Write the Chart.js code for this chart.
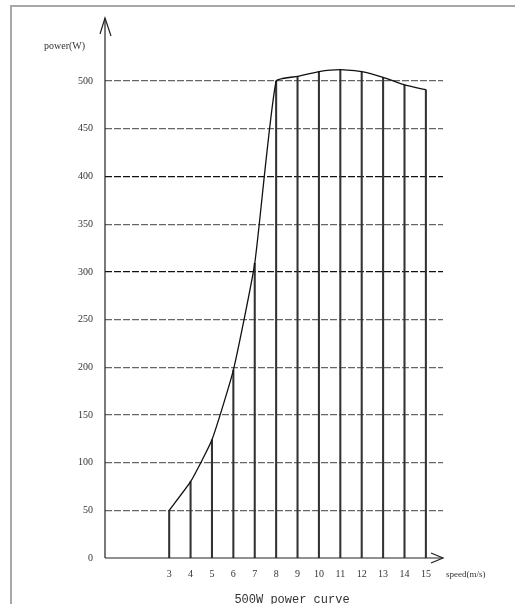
<!DOCTYPE html>
<html><head><meta charset="utf-8">
<script src="https://cdn.jsdelivr.net/npm/chart.js@4"></script>
<style>
html,body{margin:0;padding:0;background:#fff;overflow:hidden}
#wrap{position:relative;width:515px;height:604px}
#frame{position:absolute;left:10px;top:5px;width:600px;height:700px;border:2px solid #a8a8a8;box-sizing:border-box}
canvas{position:absolute;left:0;top:0}
</style></head>
<body><div id="wrap"><div id="frame"></div><canvas id="c" width="515" height="604"></canvas></div>
<script>
const speeds = [3,4,5,6,7,8,9,10,11,12,13,14,15];
const powers = [50,80,124,197,309,500,505,510,512,510,504,496,491];
const yTicks = [0,50,100,150,200,250,300,350,400,450,500];
const xTicks = speeds;
const chartTitle = '500W power curve';
const yTitle = 'power(W)';
const xTitle = 'speed(m/s)';

const pts = speeds.map((s,i)=>({x:s,y:powers[i]}));

const decor = {
  id:'decor',
  afterDraw(chart){
    const {ctx, chartArea:a} = chart;
    ctx.save();
    ctx.strokeStyle='#222'; ctx.lineWidth=1.2;
    ctx.beginPath();
    ctx.moveTo(a.left, a.bottom); ctx.lineTo(a.left, a.top-4);
    ctx.moveTo(a.left, a.bottom); ctx.lineTo(a.right, a.bottom);
    ctx.stroke();
    ctx.beginPath();
    ctx.moveTo(a.left-5, a.top+12); ctx.lineTo(a.left, a.top-4); ctx.lineTo(a.left+6, a.top+14);
    ctx.moveTo(a.right-12, a.bottom-5); ctx.lineTo(a.right, a.bottom); ctx.lineTo(a.right-12, a.bottom+5);
    ctx.stroke();
    ctx.fillStyle='#333';
    ctx.font='10px "Liberation Serif", serif';
    ctx.textAlign='left'; ctx.textBaseline='middle';
    ctx.fillText(yTitle, 44, 46);
    ctx.font='9px "Liberation Serif", serif';
    ctx.fillText(xTitle, a.right+3, a.bottom+17);
    ctx.font='12px "Liberation Mono", monospace';
    ctx.textAlign='center'; ctx.textBaseline='alphabetic';
    ctx.fillText(chartTitle, 292, 603);
    ctx.restore();
  }
};

new Chart(document.getElementById('c'), {
  data:{
    datasets:[
      {type:'bar', data:pts, backgroundColor:'#333', barThickness:1.4, order:2},
      {type:'line', data:pts, borderColor:'#111', borderWidth:1.3, pointRadius:0, tension:0.15, fill:false, order:1}
    ]
  },
  options:{
    responsive:false, animation:false,
    layout:{padding:{top:22,right:72,left:0,bottom:0}},
    plugins:{legend:{display:false},tooltip:{enabled:false}},
    scales:{
      x:{type:'linear', min:0, max:15.8, offset:false,
        afterBuildTicks(s){s.ticks = xTicks.map(v=>({value:v}));},
        afterFit(s){s.height=46;},
        grid:{display:false, drawTicks:false, offset:false},
        border:{display:false},
        ticks:{padding:10, color:'#333', font:{family:'"Liberation Serif", serif', size:10}, maxRotation:0, autoSkip:false}
      },
      y:{type:'linear', min:0, max:562,
        afterBuildTicks(s){s.ticks = yTicks.map(v=>({value:v}));},
        afterFit(s){s.width=105;},
        grid:{drawTicks:false, color:(c)=> (c.tick && (c.tick.value===400||c.tick.value===300)) ? '#111' : '#666',
          lineWidth:(c)=> (c.tick && c.tick.value===0) ? 0 : 1.3},
        border:{display:false, dash:[7,2]},
        ticks:{padding:12, color:'#333', font:{family:'"Liberation Serif", serif', size:10}}
      }
    }
  },
  plugins:[decor]
});
</script></body></html>
